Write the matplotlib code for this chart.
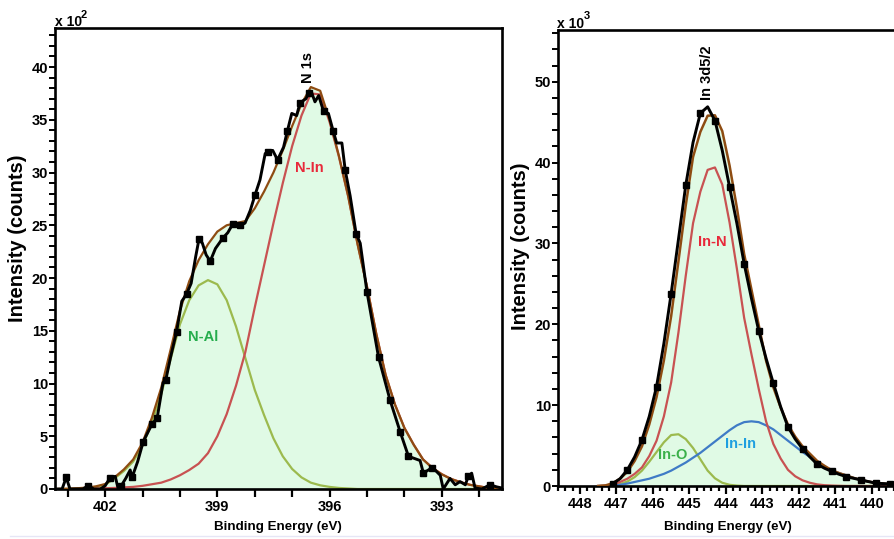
import numpy as np
import matplotlib.pyplot as plt
from matplotlib.ticker import MultipleLocator, FixedLocator
from matplotlib.lines import Line2D

plt.rcParams['font.family'] = ['Liberation Sans', 'DejaVu Sans']
plt.rcParams['font.weight'] = 'bold'

# ---- N 1s spectrum (counts x 10^2) ----
n1s_be = [403.34, 403.15, 403.04, 402.94, 402.60, 402.45, 402.30, 402.13, 402.00, 401.87,
          401.73, 401.65, 401.57, 401.45, 401.33, 401.28, 401.13, 400.98, 400.74, 400.61,
          400.45, 400.38, 400.25, 400.09, 399.95, 399.82, 399.70, 399.58, 399.49, 399.40,
          399.30, 399.19, 399.05, 398.85, 398.72, 398.59, 398.46, 398.39, 398.26, 398.12,
          397.99, 397.86, 397.72, 397.65, 397.52, 397.39, 397.23, 397.13, 397.01, 396.88,
          396.79, 396.63, 396.56, 396.47, 396.39, 396.29, 396.16, 396.03, 395.90, 395.81,
          395.67, 395.58, 395.45, 395.29, 395.18, 395.00, 394.69, 394.38, 394.11, 393.89,
          393.58, 393.49, 393.27, 393.18, 393.04, 392.96, 392.78, 392.64, 392.51, 392.37,
          392.29, 392.20, 392.11, 391.93, 391.71, 391.53, 391.40]
n1s_counts = [0.0, 0.0, 1.1, 0.0, 0.0, 0.3, 0.0, 0.0, 0.3, 1.05,
              1.2, 0.0, 0.3, 1.0, 1.8, 1.1, 2.6, 4.5, 6.2, 6.7,
              10.1, 10.3, 12.5, 14.9, 17.8, 18.5, 19.5, 22.0, 23.7, 23.3,
              22.2, 21.6, 22.8, 23.8, 24.3, 25.1, 24.9, 25.0, 25.2, 26.4,
              27.9, 29.3, 31.8, 31.9, 32.1, 31.2, 32.4, 33.9, 35.6, 35.4,
              36.6, 37.0, 37.5, 37.5, 36.7, 37.3, 35.8, 35.6, 33.9, 32.8,
              32.8, 30.2, 27.8, 24.2, 23.3, 18.7, 12.5, 8.4, 5.4, 3.1,
              2.7, 1.5, 2.0, 1.8, 1.3, 0.0, 1.0, 0.4, 0.7, 0.4,
              1.2, 1.5, 0.1, 0.0, 0.4, 0.2, 0.1]
n1s_marked = [403.04, 402.45, 401.87, 401.57, 401.28, 400.98, 400.74, 400.61, 400.38, 400.09,
              399.82, 399.49, 399.19, 398.85, 398.59, 398.39, 397.99, 397.65, 397.39, 397.13,
              396.79, 396.56, 396.16, 395.90, 395.58, 395.29, 395.00, 394.69, 394.38, 394.11,
              393.89, 393.49, 393.27, 392.29, 391.71]

n1s_fit_be = np.round(np.arange(403.25, 391.49, -0.25), 2)
n_in = [0.0, 0.0, 0.02, 0.03, 0.05, 0.07, 0.1, 0.15, 0.2, 0.3,
        0.45, 0.6, 0.9, 1.3, 1.8, 2.4, 3.4, 5.0, 7.1, 9.8,
        13.0, 17.2, 21.2, 25.2, 29.0, 32.5, 35.4, 37.5, 37.4, 34.8,
        31.5, 27.7, 23.2, 19.2, 14.7, 10.8, 8.0, 5.8, 4.2, 2.8,
        2.0, 1.4, 0.95, 0.65, 0.4, 0.25, 0.1, 0.05]
n_al = [0.0, 0.02, 0.05, 0.1, 0.2, 0.4, 1.0, 1.7, 2.6, 4.1,
        6.3, 9.0, 12.3, 15.6, 17.9, 19.3, 19.8, 19.4, 17.9, 15.4,
        12.4, 9.4, 7.0, 4.8, 3.1, 1.9, 1.1, 0.6, 0.35, 0.2,
        0.1, 0.05, 0.0, 0.0, 0.0, 0.0, 0.0, 0.0, 0.0, 0.0,
        0.0, 0.0, 0.0, 0.0, 0.0, 0.0, 0.0, 0.0]
n1s_envelope = [0.0, 0.02, 0.07, 0.13, 0.25, 0.47, 1.1, 1.85, 2.8, 4.4,
                6.75, 9.6, 13.2, 16.9, 19.7, 21.7, 23.2, 24.4, 25.0, 25.2,
                25.4, 26.6, 28.2, 30.0, 32.1, 34.4, 36.5, 38.1, 37.75, 35.0,
                31.6, 27.75, 23.2, 19.2, 14.7, 10.8, 8.0, 5.8, 4.2, 2.8,
                2.0, 1.4, 0.95, 0.65, 0.4, 0.25, 0.1, 0.05]

# ---- In 3d5/2 spectrum (counts x 10^3) ----
in3d_be = np.round(np.arange(447.1, 439.09, -0.2), 2)
in3d_counts = [0.3, 0.9, 2.0, 3.6, 5.7, 8.6, 12.3, 17.6, 23.8, 30.5,
               37.2, 42.5, 46.1, 46.9, 45.2, 41.5, 37.0, 32.5, 27.5, 23.2,
               19.2, 15.8, 12.7, 9.8, 7.3, 5.8, 4.6, 3.6, 2.7, 2.2,
               1.8, 1.45, 1.15, 0.95, 0.75, 0.55, 0.35, 0.3, 0.25, 0.2,
               0.15]

in3d_fit_be = np.round(np.arange(447.5, 439.09, -0.2), 2)
in_n = [0.0, 0.05, 0.2, 0.5, 0.9, 1.5, 2.3, 3.7, 5.6, 8.6,
        12.8, 19.0, 26.0, 32.5, 36.4, 39.1, 39.4, 37.3, 32.6, 26.9,
        20.8, 16.3, 12.0, 8.0, 5.2, 3.4, 2.0, 1.2, 0.7, 0.4,
        0.2, 0.1, 0.05, 0.02, 0.0, 0.0, 0.0, 0.0, 0.0, 0.0,
        0.0, 0.0, 0.0]
in_o = [0.0, 0.02, 0.1, 0.25, 0.55, 1.1, 1.9, 3.0, 4.2, 5.4,
        6.3, 6.4, 5.8, 4.7, 3.3, 1.9, 0.95, 0.4, 0.15, 0.05,
        0.0, 0.0, 0.0, 0.0, 0.0, 0.0, 0.0, 0.0, 0.0, 0.0,
        0.0, 0.0, 0.0, 0.0, 0.0, 0.0, 0.0, 0.0, 0.0, 0.0,
        0.0, 0.0, 0.0]
in_in = [0.0, 0.0, 0.05, 0.15, 0.3, 0.5, 0.7, 0.9, 1.2, 1.5,
         1.9, 2.4, 2.9, 3.5, 4.1, 4.8, 5.5, 6.2, 6.9, 7.5,
         7.9, 8.0, 7.9, 7.5, 7.0, 6.3, 5.6, 4.9, 4.2, 3.6,
         2.9, 2.4, 1.9, 1.6, 1.3, 1.0, 0.75, 0.55, 0.4, 0.3,
         0.2, 0.15, 0.12]
in3d_envelope = [0.0, 0.07, 0.35, 0.9, 1.75, 3.1, 4.9, 7.6, 11.0, 15.5,
                 21.0, 27.8, 34.7, 40.7, 43.8, 45.8, 45.85, 43.9, 39.65, 34.45,
                 28.7, 24.3, 19.9, 15.5, 12.2, 9.7, 7.6, 6.1, 4.9, 4.0,
                 3.1, 2.5, 1.95, 1.6, 1.3, 1.0, 0.75, 0.55, 0.4, 0.3,
                 0.2, 0.15, 0.12]

FILL = '#e0fae5'
BROWN = '#8e4c12'
RED = '#c85252'
GREEN = '#9cba4e'
BLUE = '#3f7bc6'


def style_axes(ax, xlen_minor):
    ax.tick_params(axis='x', which='major', direction='out', length=6, width=1.6,
                   labelsize=10.5, pad=2)
    ax.tick_params(axis='x', which='minor', direction='out', length=xlen_minor, width=1.6)
    ax.tick_params(axis='y', which='both', direction='out', length=4, width=1.4,
                   labelsize=10.5, pad=1)
    for s in ax.spines.values():
        s.set_linewidth(1.9)
    for lab in ax.get_xticklabels() + ax.get_yticklabels():
        lab.set_fontweight('bold')


fig = plt.figure(figsize=(8.94, 5.39), dpi=100)

# N 1s panel
ax1 = fig.add_axes([55 / 894, 50 / 539, 446.6 / 894, 461 / 539])
ax1.fill_between(n1s_fit_be, n1s_envelope, color=FILL, lw=0, zorder=1)
ax1.plot(n1s_fit_be, n_al, color=GREEN, lw=1.6, zorder=2)
ax1.plot(n1s_fit_be, n_in, color=RED, lw=1.6, zorder=2)
ax1.plot(n1s_fit_be, n1s_envelope, color=BROWN, lw=1.6, zorder=3)
mk1 = [i for i, e in enumerate(n1s_be) if e in n1s_marked]
ax1.plot(n1s_be, n1s_counts, color='black', lw=2.1, marker='s', ms=5,
         markevery=mk1, zorder=4)
ax1.set_xlim(403.34, 391.4)
ax1.set_ylim(0, 43.7)
ax1.xaxis.set_major_locator(MultipleLocator(3))
ax1.xaxis.set_minor_locator(MultipleLocator(1))
ax1.yaxis.set_major_locator(MultipleLocator(5))
ax1.yaxis.set_minor_locator(MultipleLocator(1))
style_axes(ax1, 6)
ax1.text(396.57, 40.0, 'N 1s', rotation=90, ha='center', va='center', fontsize=10.5)
ax1.text(396.55, 30.4, 'N-In', color='#e8283a', ha='center', va='center', fontsize=10.5)
ax1.text(399.38, 14.4, 'N-Al', color='#25ad4c', ha='center', va='center', fontsize=10.5)

# In 3d5/2 panel
ax2 = fig.add_axes([558 / 894, 53 / 539, 350.4 / 894, 456 / 539])
ax2.fill_between(in3d_fit_be, in3d_envelope, color=FILL, lw=0, zorder=1)
ax2.plot(in3d_fit_be, in_o, color=GREEN, lw=1.6, zorder=2)
ax2.plot(in3d_fit_be, in_in, color=BLUE, lw=1.6, zorder=2)
ax2.plot(in3d_fit_be, in_n, color=RED, lw=1.6, zorder=2)
ax2.plot(in3d_fit_be, in3d_envelope, color=BROWN, lw=1.8, zorder=3)
ax2.plot(in3d_be, in3d_counts, color='black', lw=2.1, marker='s', ms=5,
         markevery=2, zorder=4)
ax2.set_xlim(448.6, 439.0)
ax2.set_ylim(0, 56.4)
ax2.xaxis.set_major_locator(FixedLocator(list(range(440, 449))))
ax2.xaxis.set_minor_locator(MultipleLocator(0.2))
ax2.yaxis.set_major_locator(MultipleLocator(10))
ax2.yaxis.set_minor_locator(MultipleLocator(2))
style_axes(ax2, 3.5)
ax2.text(444.52, 51.1, 'In 3d5/2', rotation=90, ha='center', va='center', fontsize=10.5)
ax2.text(444.38, 30.2, 'In-N', color='#e8283a', ha='center', va='center', fontsize=10.5)
ax2.text(445.45, 3.8, 'In-O', color='#3bb04a', ha='center', va='center', fontsize=10.5)
ax2.text(443.59, 5.2, 'In-In', color='#1f9fe0', ha='center', va='center', fontsize=10.5)

# axis titles
fig.text(18 / 894, 1 - 238 / 539, 'Intensity (counts)', rotation=90, ha='center',
         va='center', fontsize=14.5)
fig.text(521 / 894, 1 - 246 / 539, 'Intensity (counts)', rotation=90, ha='center',
         va='center', fontsize=14.5)
fig.text(278 / 894, 1 - 527 / 539, 'Binding Energy (eV)', ha='center', va='center',
         fontsize=9.6)
fig.text(728 / 894, 1 - 527 / 539, 'Binding Energy (eV)', ha='center', va='center',
         fontsize=9.6)

# scale factors above the y axes
fig.text(55 / 894, 1 - 26 / 539, 'x 10', ha='left', va='baseline', fontsize=10)
fig.text(81 / 894, 1 - 18 / 539, '2', ha='left', va='baseline', fontsize=8)
fig.text(557 / 894, 1 - 28 / 539, 'x 10', ha='left', va='baseline', fontsize=10)
fig.text(584 / 894, 1 - 19 / 539, '3', ha='left', va='baseline', fontsize=8)

fig.add_artist(Line2D([10 / 894, 1], [3 / 539, 3 / 539], transform=fig.transFigure,
                      color='#e6e6f6', lw=1))

fig.savefig('out.png', dpi=100)
